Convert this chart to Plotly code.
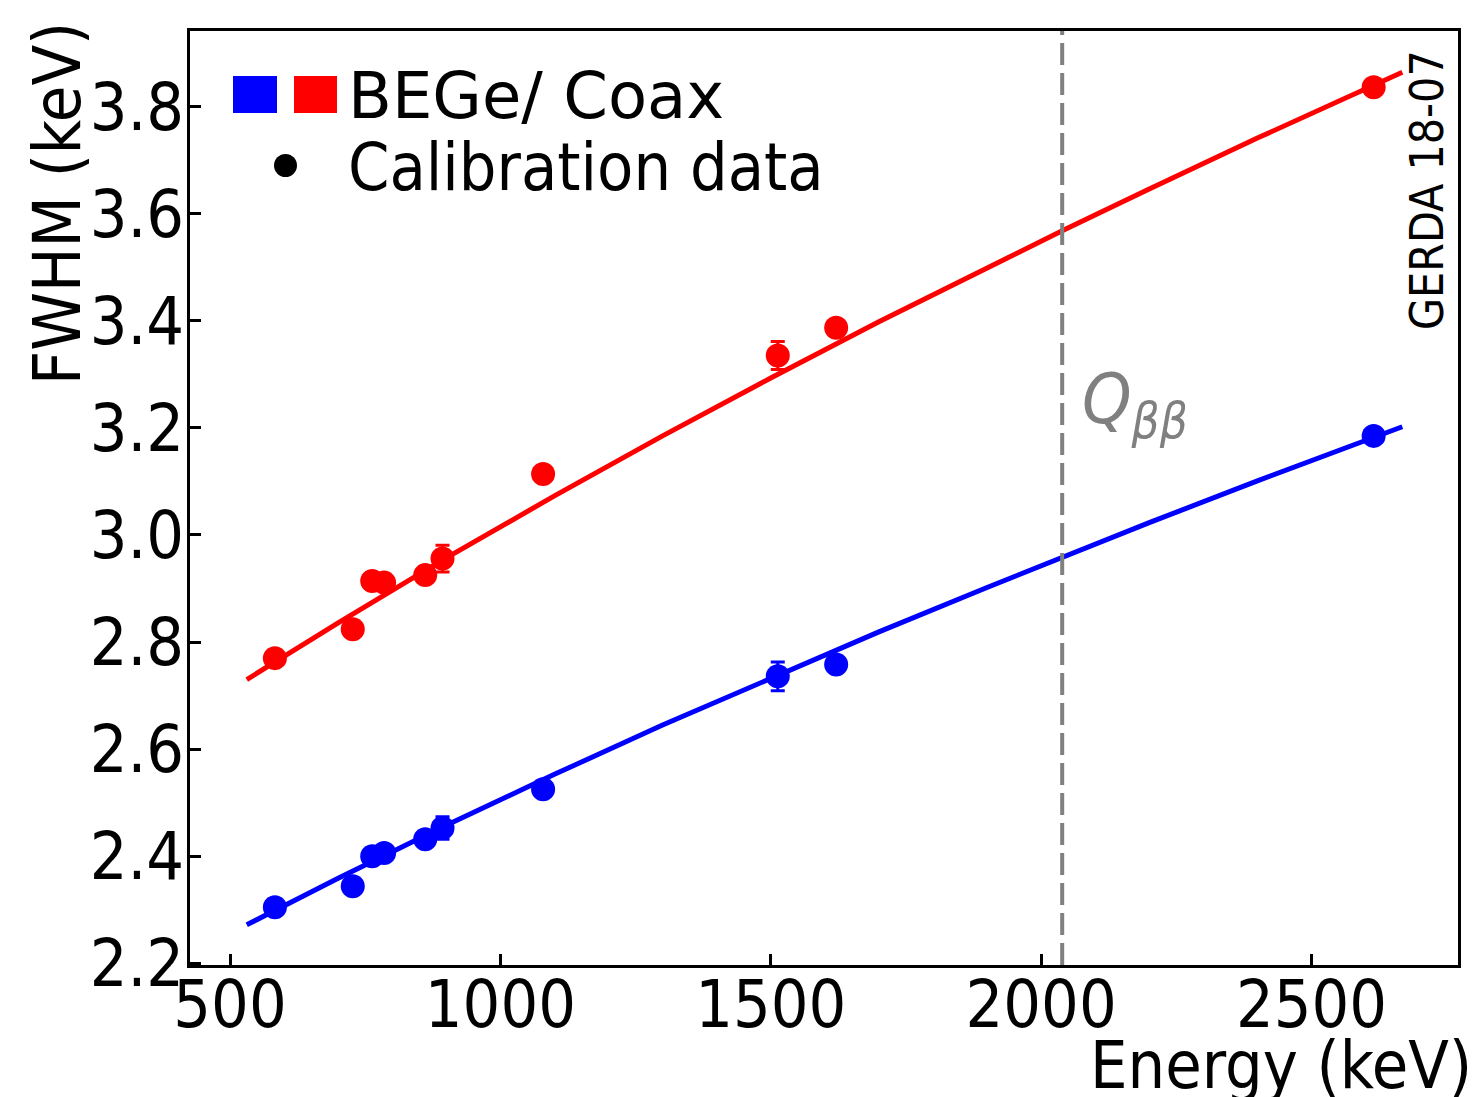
import plotly.graph_objects as go

# ---- data ----
energy = [583, 727, 763, 785, 861, 893, 1079, 1513, 1621, 2615]
fwhm_coax = [2.770, 2.824, 2.914, 2.911, 2.925, 2.956, 3.114, 3.335, 3.387, 3.836]
err_coax = [0.010, 0.010, 0.015, 0.010, 0.010, 0.025, 0.012, 0.026, 0.010, 0.010]
fwhm_bege = [2.305, 2.344, 2.400, 2.406, 2.432, 2.453, 2.525, 2.736, 2.758, 3.185]
err_bege = [0.010, 0.010, 0.010, 0.010, 0.010, 0.021, 0.010, 0.027, 0.010, 0.010]

fit_energy = [531, 700, 900, 1100, 1300, 1500, 1700, 1900, 2039, 2200, 2400, 2668]
fit_coax = [2.730, 2.836, 2.957, 3.073, 3.185, 3.293, 3.398, 3.499, 3.568, 3.646, 3.741, 3.864]
fit_bege = [2.272, 2.359, 2.458, 2.553, 2.645, 2.733, 2.819, 2.902, 2.959, 3.023, 3.101, 3.202]

q_bb = 2039
x_range = [426, 2771]
y_range = [2.197, 3.941]
x_ticks = [500, 1000, 1500, 2000, 2500]
y_ticks = [2.2, 2.4, 2.6, 2.8, 3.0, 3.2, 3.4, 3.6, 3.8]

FONT = "DejaVu Sans Condensed, DejaVu Sans"
FONT_WIDE = "DejaVu Sans"
W, H = 1479, 1097
L, R, T, B = 190, 1458, 31, 965  # plot area in pixels


def px(x):
    return (x - L) / (R - L)


def py(y):
    return (B - y) / (B - T)


fig = go.Figure()

fig.add_trace(go.Scatter(x=fit_energy, y=fit_coax, mode="lines",
                         line=dict(color="#ff0000", width=5),
                         showlegend=False, hoverinfo="skip"))
fig.add_trace(go.Scatter(x=fit_energy, y=fit_bege, mode="lines",
                         line=dict(color="#0000ff", width=5),
                         showlegend=False, hoverinfo="skip"))

fig.add_trace(go.Scatter(x=energy, y=fwhm_coax, mode="markers",
                         marker=dict(color="#ff0000", size=24),
                         error_y=dict(type="data", array=err_coax, color="#ff0000",
                                      thickness=3, width=7),
                         showlegend=False))
fig.add_trace(go.Scatter(x=energy, y=fwhm_bege, mode="markers",
                         marker=dict(color="#0000ff", size=24),
                         error_y=dict(type="data", array=err_bege, color="#0000ff",
                                      thickness=3, width=7),
                         showlegend=False))

shapes = [
    dict(type="line", xref="x", yref="paper", x0=q_bb, x1=q_bb, y0=0, y1=1,
         line=dict(color="#808080", width=4, dash="22px,8px")),
    # legend swatches
    dict(type="rect", xref="paper", yref="paper", x0=px(233), x1=px(277),
         y0=py(113), y1=py(76), fillcolor="#0000ff", line=dict(width=0)),
    dict(type="rect", xref="paper", yref="paper", x0=px(294), x1=px(337),
         y0=py(113), y1=py(76), fillcolor="#ff0000", line=dict(width=0)),
    dict(type="circle", xref="paper", yref="paper", x0=px(274), x1=px(297),
         y0=py(177), y1=py(154), fillcolor="#000000", line=dict(width=0)),
]

annotations = [
    dict(text="BEGe/ Coax", xref="paper", yref="paper", x=px(346), y=py(96),
         xanchor="left", yanchor="middle", showarrow=False,
         font=dict(family=FONT_WIDE, size=64, color="black")),
    dict(text="Calibration data", xref="paper", yref="paper", x=px(346), y=py(167),
         xanchor="left", yanchor="middle", showarrow=False,
         font=dict(family=FONT, size=66, color="black")),
    dict(text="GERDA 18-07", xref="paper", yref="paper", x=px(1427), y=py(190),
         xanchor="center", yanchor="middle", textangle=-90, showarrow=False,
         font=dict(family=FONT, size=46, color="black")),
    dict(text="<i>Q</i><sub><i>ββ</i></sub>", xref="paper", yref="paper",
         x=px(1080), y=py(404), xanchor="left", yanchor="middle", showarrow=False,
         font=dict(family=FONT, size=70, color="#808080")),
    dict(text="FWHM (keV)", xref="paper", yref="paper", x=px(58), y=py(204),
         xanchor="center", yanchor="middle", textangle=-90, showarrow=False,
         font=dict(family=FONT, size=66, color="black")),
    dict(text="Energy (keV)", xref="paper", yref="paper", x=px(1474), y=py(1065),
         xanchor="right", yanchor="middle", showarrow=False,
         font=dict(family=FONT, size=66, color="black")),
]

axis_common = dict(showgrid=False, zeroline=False, showline=True, mirror=True,
                   linecolor="black", linewidth=2.5, ticks="inside", ticklen=11,
                   tickwidth=2.5, tickcolor="black",
                   tickfont=dict(family=FONT, size=66, color="black"))

fig.update_layout(
    width=W, height=H,
    margin=dict(l=L, r=W - R, t=T, b=H - B),
    paper_bgcolor="white", plot_bgcolor="white",
    shapes=shapes, annotations=annotations,
    xaxis=dict(range=x_range, tickvals=x_ticks, ticklabelstandoff=-20, **axis_common),
    yaxis=dict(range=y_range, tickvals=y_ticks, ticktext=[f"{v:.1f}" for v in y_ticks],
               ticklabelstandoff=-10, **axis_common),
    showlegend=False,
)

fig.write_html("out.html")
